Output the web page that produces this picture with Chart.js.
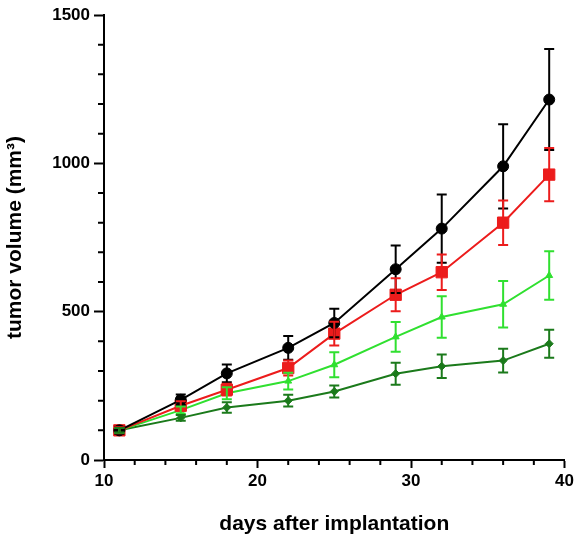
<!DOCTYPE html>
<html>
<head>
<meta charset="utf-8">
<script src="https://cdn.jsdelivr.net/npm/chart.js@4"></script>
<style>
  html, body { margin: 0; padding: 0; background: #ffffff; }
  #wrap { width: 577px; height: 544px; }
</style>
</head>
<body>
<div id="wrap"><canvas id="c" width="577" height="544"></canvas></div>
<script>
// Measurement days
const days = [11, 15, 18, 22, 25, 29, 32, 36, 39];

// Mean tumor volume (mm³) per group, with error half-widths
const blackMean = [100, 203, 292, 378, 462, 643, 780, 990, 1215];
const blackErr  = [12, 18, 30, 40, 48, 80, 115, 142, 170];
const redMean   = [100, 183, 237, 310, 426, 557, 633, 800, 962];
const redErr    = [10, 15, 20, 25, 40, 56, 60, 75, 90];
const lightMean = [100, 168, 225, 266, 321, 415, 482, 525, 622];
const lightErr  = [8, 12, 20, 28, 42, 50, 70, 78, 82];
const darkMean  = [100, 142, 177, 200, 231, 291, 316, 335, 392];
const darkErr   = [8, 10, 18, 20, 20, 37, 40, 40, 47];

// Axis ticks
const xMajor = [10, 20, 30, 40];
const xMinor = [12, 14, 16, 18, 22, 24, 26, 28, 32, 34, 36, 38];
const yMajor = [0, 500, 1000, 1500];
const yMinor = [100, 200, 300, 400, 600, 700, 800, 900, 1100, 1200, 1300, 1400];

const pts = (ys) => days.map((d, i) => ({ x: d, y: ys[i] }));

function series(label, ys, errs, color, style, radius, order) {
  return {
    label, data: pts(ys), errors: errs,
    borderColor: color, backgroundColor: color,
    pointBackgroundColor: color, pointBorderColor: color,
    borderWidth: 2, pointStyle: style, pointRadius: radius,
    pointBorderWidth: 1, tension: 0, showLine: true, order
  };
}

// Vertical error bars with caps
const errorBars = {
  id: 'errorBars',
  afterDatasetsDraw(chart) {
    const { ctx, scales: { x, y } } = chart;
    chart.data.datasets.forEach((ds) => {
      ctx.save();
      ctx.strokeStyle = ds.borderColor;
      ctx.lineWidth = 2;
      ds.data.forEach((p, i) => {
        const px = x.getPixelForValue(p.x);
        const top = y.getPixelForValue(p.y + ds.errors[i]);
        const bot = y.getPixelForValue(p.y - ds.errors[i]);
        const cap = 5;
        ctx.beginPath();
        ctx.moveTo(px, top); ctx.lineTo(px, bot);
        ctx.moveTo(px - cap, top); ctx.lineTo(px + cap, top);
        ctx.moveTo(px - cap, bot); ctx.lineTo(px + cap, bot);
        ctx.stroke();
      });
      ctx.restore();
    });
  }
};

// Short minor tick marks on both axes
const minorTicks = {
  id: 'minorTicks',
  afterDraw(chart) {
    const { ctx, chartArea, scales: { x, y } } = chart;
    ctx.save();
    ctx.strokeStyle = '#000';
    ctx.lineWidth = 2;
    ctx.beginPath();
    xMinor.forEach(v => {
      const px = x.getPixelForValue(v);
      ctx.moveTo(px, chartArea.bottom); ctx.lineTo(px, chartArea.bottom + 5);
    });
    yMinor.forEach(v => {
      const py = y.getPixelForValue(v);
      ctx.moveTo(chartArea.left, py); ctx.lineTo(chartArea.left - 6, py);
    });
    ctx.stroke();
    ctx.restore();
  }
};

const tickFont = { family: '"Liberation Sans", Arial, sans-serif', size: 17, weight: 'bold' };
const titleFont = { family: '"Liberation Sans", Arial, sans-serif', size: 21, weight: 'bold' };
const plain = v => String(v);

new Chart(document.getElementById('c'), {
  type: 'scatter',
  data: {
    datasets: [
      series('control', blackMean, blackErr, '#000000', 'circle', 5.5, 1),
      series('group 2', redMean, redErr, '#ec1c1c', 'rect', 8, 2),
      series('group 3', lightMean, lightErr, '#30e030', 'triangle', 4, 3),
      series('group 4', darkMean, darkErr, '#1b7a1b', 'rectRot', 4, 4)
    ]
  },
  options: {
    responsive: false,
    animation: false,
    devicePixelRatio: 1,
    layout: { padding: { left: 0, right: 12, top: 15, bottom: 0 } },
    plugins: { legend: { display: false }, tooltip: { enabled: false } },
    scales: {
      x: {
        type: 'linear', min: 10, max: 40,
        afterBuildTicks: s => { s.ticks = xMajor.map(v => ({ value: v })); },
        afterFit: s => { s.height = 84; },
        border: { display: true, color: '#000', width: 2 },
        grid: { drawOnChartArea: false, drawTicks: true, tickLength: 8, tickColor: '#000', tickWidth: 2 },
        ticks: { color: '#000', font: tickFont, padding: 3, maxRotation: 0, callback: plain },
        title: { display: true, text: 'days after implantation', color: '#000', font: titleFont, padding: { top: 0, bottom: 7 } }
      },
      y: {
        type: 'linear', min: 0, max: 1500,
        afterBuildTicks: s => { s.ticks = yMajor.map(v => ({ value: v })); },
        afterFit: s => { s.width = 104; },
        border: { display: true, color: '#000', width: 2 },
        grid: { drawOnChartArea: false, drawTicks: true, tickLength: 10, tickColor: '#000', tickWidth: 2 },
        ticks: { color: '#000', font: tickFont, padding: 4, callback: plain },
        title: { display: true, text: 'tumor volume (mm³)', color: '#000', font: titleFont, padding: { top: 3, bottom: 0 } }
      }
    }
  },
  plugins: [errorBars, minorTicks]
});
</script>
</body>
</html>
